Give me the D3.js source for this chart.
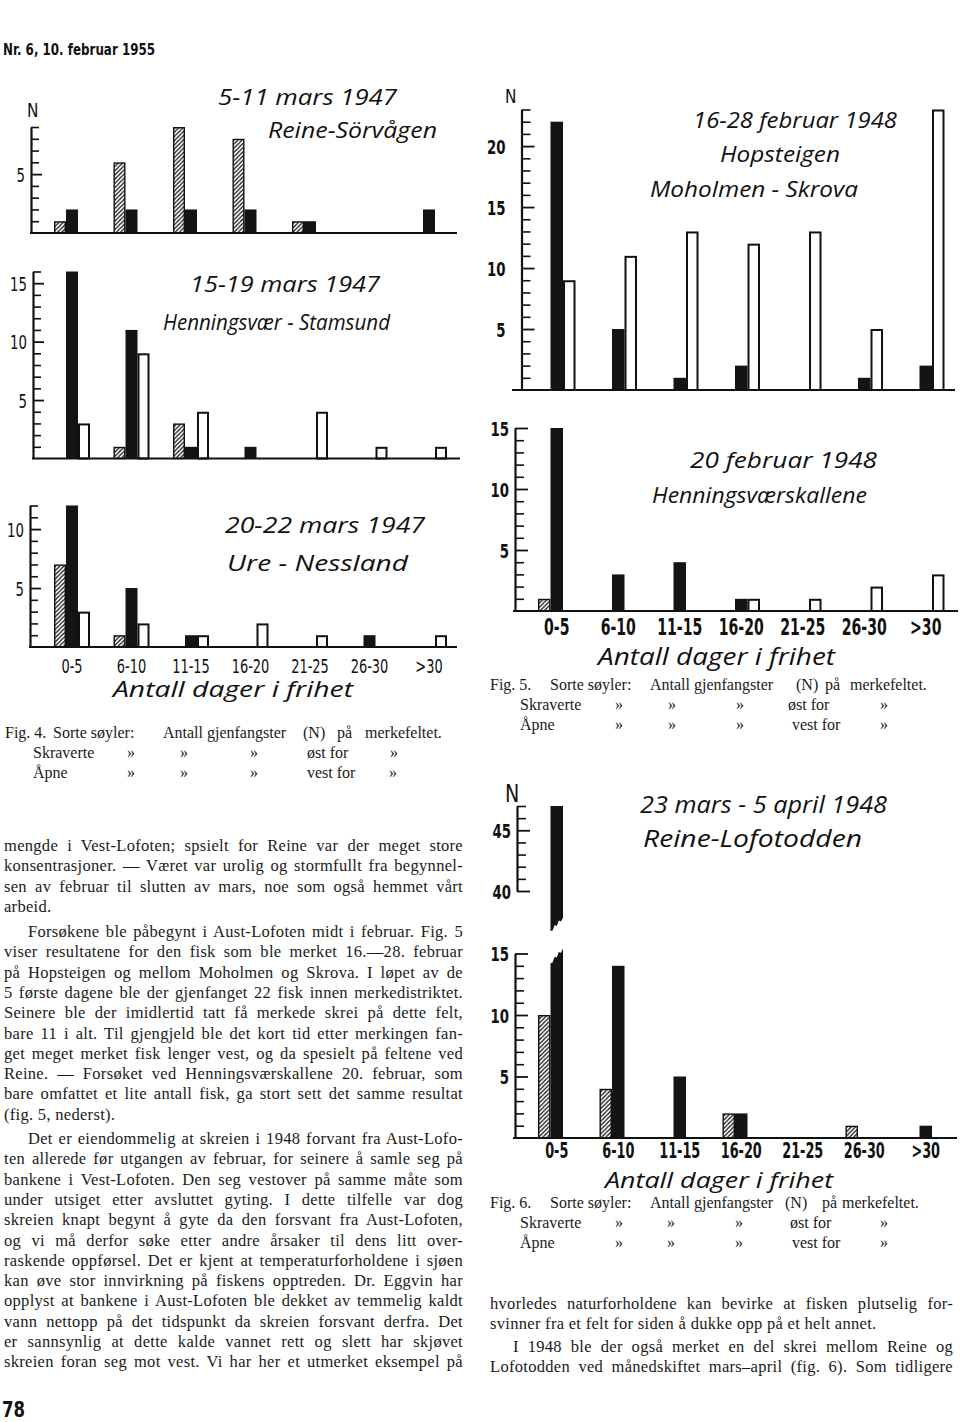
<!DOCTYPE html>
<html><head><meta charset="utf-8">
<script src="https://cdn.jsdelivr.net/npm/d3@7"></script>
<style>body{margin:0;background:#fff}svg{display:block}</style>
</head><body>
<script>
// ---------- DATA ----------
const categories = ["0-5","6-10","11-15","16-20","21-25","26-30",">30"];
const xLabels4 = ["0-5","6-10","11-15","16-20","21-25","26-30",">30"];
const xLabels5 = ["0-5","6-10","11-15","16-20","21-25","26-30",">30"];
const xLabels6 = ["0-5","6-10","11-15","16-20","21-25","26-30",">30"];
const series = ["east","field","west"]; // skraverte, sorte, åpne

// Fig. 4 – 5-11 mars 1947, Reine-Sörvågen
const f4aEast  = [1,6,9,8,1,0,0];
const f4aField = [2,2,2,2,1,0,2];
const f4aWest  = [0,0,0,0,0,0,0];
// Fig. 4 – 15-19 mars 1947, Henningsvær-Stamsund
const f4bEast  = [0,1,3,0,0,0,0];
const f4bField = [16,11,1,1,0,0,0];
const f4bWest  = [3,9,4,0,4,1,1];
// Fig. 4 – 20-22 mars 1947, Ure-Nessland
const f4cEast  = [7,1,0,0,0,0,0];
const f4cField = [12,5,1,0,0,1,0];
const f4cWest  = [3,2,1,2,1,0,1];
// Fig. 5 – 16-28 februar 1948, Hopsteigen, Moholmen-Skrova
const f5aEast  = [0,0,0,0,0,0,0];
const f5aField = [22,5,1,2,0,1,2];
const f5aWest  = [9,11,13,12,13,5,23];
// Fig. 5 – 20 februar 1948, Henningsværskallene
const f5bEast  = [1,0,0,0,0,0,0];
const f5bField = [15,3,4,1,0,0,0];
const f5bWest  = [0,0,0,1,1,2,3];
// Fig. 6 – 23 mars-5 april 1948, Reine-Lofotodden
const f6East   = [10,4,0,2,0,1,0];
const f6Field  = [47,14,5,2,0,0,1];
const f6West   = [0,0,0,0,0,0,0];
const f6BreakLower = [14.2, 15.4];
const f6BreakUpper = [36.7, 37.8];

// y tick labels
const yLab4a = [5], yLab4b = [5,10,15], yLab4c = [5,10];
const yLab5a = [5,10,15,20], yLab5b = [5,10,15];
const yLab6 = [5,10,15], yLab6u = [40,45];

// ---------- TEXT ----------
const leftParas = [
 {indent:false, end:true, y:851, lines:[
  "mengde i Vest-Lofoten; spsielt for Reine var der meget store",
  "konsentrasjoner. — Været var urolig og stormfullt fra begynnel-",
  "sen av februar til slutten av mars, noe som også hemmet vårt",
  "arbeid."]},
 {indent:true, end:true, y:937, lines:[
  "Forsøkene ble påbegynt i Aust-Lofoten midt i februar. Fig. 5",
  "viser resultatene for den fisk som ble merket 16.—28. februar",
  "på Hopsteigen og mellom Moholmen og Skrova. I løpet av de",
  "5 første dagene ble der gjenfanget 22 fisk innen merkedistriktet.",
  "Seinere ble der imidlertid tatt få merkede skrei på dette felt,",
  "bare 11 i alt. Til gjengjeld ble det kort tid etter merkingen fan-",
  "get meget merket fisk lenger vest, og da spesielt på feltene ved",
  "Reine. — Forsøket ved Henningsværskallene 20. februar, som",
  "bare omfattet et lite antall fisk, ga stort sett det samme resultat",
  "(fig. 5, nederst)."]},
 {indent:true, end:false, y:1144, lines:[
  "Det er eiendommelig at skreien i 1948 forvant fra Aust-Lofo-",
  "ten allerede før utgangen av februar, for seinere å samle seg på",
  "bankene i Vest-Lofoten. Den seg vestover på samme måte som",
  "under utsiget etter avsluttet gyting. I dette tilfelle var dog",
  "skreien knapt begynt å gyte da den forsvant fra Aust-Lofoten,",
  "og vi må derfor søke etter andre årsaker til dens litt over-",
  "raskende oppførsel. Det er kjent at temperaturforholdene i sjøen",
  "kan øve stor innvirkning på fiskens opptreden. Dr. Eggvin har",
  "opplyst at bankene i Aust-Lofoten ble dekket av temmelig kaldt",
  "vann nettopp på det tidspunkt da skreien forsvant derfra. Det",
  "er sannsynlig at dette kalde vannet rett og slett har skjøvet",
  "skreien foran seg mot vest. Vi har her et utmerket eksempel på"]}
];
const rightParas = [
 {indent:false, end:true, y:1309, lines:[
  "hvorledes naturforholdene kan bevirke at fisken plutselig for-",
  "svinner fra et felt for siden å dukke opp på et helt annet."]},
 {indent:true, end:false, y:1352, lines:[
  "I 1948 ble der også merket en del skrei mellom Reine og",
  "Lofotodden ved månedskiftet mars–april (fig. 6). Som tidligere"]}
];

// ---------- SETUP ----------
const svg = d3.select("body").append("svg").attr("width",960).attr("height",1422);
const defs = svg.append("defs");
const pat = defs.append("pattern").attr("id","hatch").attr("patternUnits","userSpaceOnUse")
  .attr("width",4.2).attr("height",4.2);
pat.append("rect").attr("width",4.2).attr("height",4.2).attr("fill","#fff");
pat.append("path").attr("d","M0,4.2L4.2,0M-1,1L1,-1M3.2,5.2L5.2,3.2")
  .attr("stroke","#111").attr("stroke-width",1.25);

const INK = "#141414";
const COND = "'DejaVu Sans Condensed','DejaVu Sans',sans-serif";
const HAND = "'Open Sans','DejaVu Sans',sans-serif";
const SERIF = "'Liberation Serif','DejaVu Serif',serif";

function squeeze(sel, f) {
  sel.each(function(){
    const w = this.getComputedTextLength();
    d3.select(this).attr("textLength", w*f).attr("lengthAdjust","spacingAndGlyphs");
  });
}
function fitText(sel, w) {
  sel.attr("textLength", w).attr("lengthAdjust","spacingAndGlyphs");
}

function jagged(x0, x1, ya, yb, n, amp) {
  const pts = [];
  for (let i=0;i<=n;i++){
    const t=i/n;
    pts.push([x0+(x1-x0)*t, ya+(yb-ya)*t + (i%2? amp:-amp)*(i>0&&i<n?1:0)]);
  }
  return pts;
}

function drawPanel(cfg, east, field, west) {
  const g = svg.append("g");
  const x = d3.scaleBand().domain(categories).range(cfg.xRange).paddingInner(cfg.padIn).paddingOuter(0);
  const xs = d3.scaleBand().domain(series).range([0, x.bandwidth()]);
  const y = d3.scaleLinear().domain(cfg.yDomain).range(cfg.yRange);
  const vals = {east, field, west};
  const rows = [];
  series.forEach(s => categories.forEach((c,i) => { if (vals[s][i] > 0) rows.push({s, c, v: vals[s][i]}); }));
  const normal = rows.filter(d => d.v <= cfg.yDomain[1]);
  const over = rows.filter(d => d.v > cfg.yDomain[1]);
  const sw = s => s==="field" ? 0 : (s==="west" ? 2 : 1.4);

  g.selectAll("rect.bar").data(normal).join("rect").attr("class","bar")
    .attr("x", d => x(d.c) + xs(d.s) + sw(d.s)/2)
    .attr("width", d => xs.bandwidth() - sw(d.s))
    .attr("y", d => y(d.v) + sw(d.s)/2)
    .attr("height", d => y(0) - y(d.v) - sw(d.s)/2)
    .attr("fill", d => d.s==="field" ? INK : d.s==="east" ? "url(#hatch)" : "#fff")
    .attr("stroke", d => d.s==="field" ? "none" : "#111")
    .attr("stroke-width", d => sw(d.s));

  // broken bars
  if (cfg.upper && over.length) {
    const yu = d3.scaleLinear().domain(cfg.upper.yDomain).range(cfg.upper.yRange);
    over.forEach(d => {
      const x0 = x(d.c) + xs(d.s), x1 = x0 + xs.bandwidth();
      const lowTop = jagged(x0, x1, y(f6BreakLower[0]), y(f6BreakLower[1]), 6, 1.6);
      const lowPts = [[x0, y(0)], ...lowTop, [x1, y(0)]];
      g.append("path").attr("d", d3.line()(lowPts) + "Z").attr("fill", INK);
      const upBot = jagged(x1, x0, yu(f6BreakUpper[1]), yu(f6BreakUpper[0]), 6, 1.6);
      const upPts = [[x0, yu(d.v)], [x1, yu(d.v)], ...upBot];
      g.append("path").attr("d", d3.line()(upPts) + "Z").attr("fill", INK);
    });
    drawYAxis(g, yu, cfg.upper.axisX, cfg.upper.yDomain, cfg.upper.labels, cfg);
  }

  // baseline
  g.append("line").attr("x1", cfg.base[0]).attr("x2", cfg.base[1])
    .attr("y1", y(0)).attr("y2", y(0)).attr("stroke", "#111").attr("stroke-width", 2.2);

  drawYAxis(g, y, cfg.axisX, cfg.yDomain, cfg.labels, cfg);

  if (cfg.xLabels) {
    const ax = g.append("g").attr("transform", `translate(0,${cfg.xLabelY})`)
      .call(d3.axisBottom(x).tickSize(0).tickPadding(0).tickFormat((d,i)=>cfg.xLabels[i]));
    ax.select(".domain").remove();
    ax.selectAll("text").attr("y",0).attr("dy",0).attr("x",0)
      .attr("transform", `scale(${cfg.xSqueeze},1)`)
      .style("font-family", COND).style("font-size", cfg.xLabelSize+"px")
      .style("font-weight", cfg.xLabelWeight).attr("fill","#111");
  }
}

function drawYAxis(g, y, axisX, dom, labels, cfg) {
  const lo = Math.max(1, Math.ceil(dom[0])), hi = dom[1];
  const all = d3.range(lo, hi+1);
  const minor = all.filter(v => v%5 !== 0);
  const major = all.filter(v => v%5 === 0);
  const a1 = g.append("g").attr("transform", `translate(${axisX},0)`)
    .call(d3.axisRight(y).tickValues(minor).tickSize(cfg.minor).tickSizeOuter(0).tickFormat(""));
  a1.select(".domain").attr("stroke","#111").attr("stroke-width",2.2);
  a1.selectAll(".tick line").attr("stroke","#111").attr("stroke-width",1.6);
  const a2 = g.append("g").attr("transform", `translate(${axisX},0)`)
    .call(d3.axisRight(y).tickValues(major).tickSize(cfg.major).tickSizeOuter(0).tickFormat(""));
  a2.select(".domain").remove();
  a2.selectAll(".tick line").attr("stroke","#111").attr("stroke-width",1.8);
  const f = 0.74;
  const a3 = g.append("g").attr("transform", `translate(${axisX},0)`)
    .call(d3.axisLeft(y).tickValues(labels).tickSize(0).tickPadding(cfg.labelPad).tickFormat(d3.format("d")));
  a3.select(".domain").remove();
  a3.selectAll("text").attr("dy","0.36em").attr("x", -cfg.labelPad / f)
    .attr("transform", `scale(${f},1)`)
    .style("font-family", COND).style("font-size", cfg.yLabelSize+"px")
    .style("font-weight", cfg.yLabelWeight).attr("fill","#111");
}

const f4x = {xRange:[54,447], padIn:0.395, major:11, minor:8, labelPad:6, yLabelSize:20, yLabelWeight:400};
const f5x = {xRange:[538,944.5], padIn:0.39, major:13, minor:9, labelPad:6, yLabelSize:20, yLabelWeight:700};

drawPanel({...f4x, yDomain:[0,9], yRange:[233,127], axisX:31, base:[30,457], labels:yLab4a},
  f4aEast, f4aField, f4aWest);
drawPanel({...f4x, yDomain:[0,16], yRange:[458.5,271.5], axisX:33, base:[32,460], labels:yLab4b},
  f4bEast, f4bField, f4bWest);
drawPanel({...f4x, yDomain:[0,12], yRange:[647,505.5], axisX:30, base:[29,457], labels:yLab4c,
  xLabels:xLabels4, xLabelY:673, xLabelSize:20, xLabelWeight:400, xSqueeze:0.72},
  f4cEast, f4cField, f4cWest);
drawPanel({...f5x, yDomain:[0,23], yRange:[390,109.5], axisX:521.5, base:[512,955], labels:yLab5a, labelPad:16},
  f5aEast, f5aField, f5aWest);
drawPanel({...f5x, yDomain:[0,15], yRange:[611,428], axisX:515, base:[513,958], labels:yLab5b,
  xLabels:xLabels5, xLabelY:635, xLabelSize:23, xLabelWeight:700, xSqueeze:0.68},
  f5bEast, f5bField, f5bWest);
drawPanel({...f5x, yDomain:[0,15], yRange:[1138,953.5], axisX:515, base:[513,957], labels:yLab6,
  xLabels:xLabels6, xLabelY:1158, xLabelSize:21, xLabelWeight:700, xSqueeze:0.68,
  upper:{yDomain:[40,47], yRange:[891,806], axisX:517, labels:yLab6u}},
  f6East, f6Field, f6West);

// ---------- TITLES ----------
const titles = [
 ["5-11 mars 1947", 218, 104.5, 179, 21],
 ["Reine-Sörvågen", 268, 138, 169, 21],
 ["15-19 mars 1947", 190, 292, 190, 21],
 ["Henningsvær - Stamsund", 163, 330, 227, 21],
 ["20-22 mars 1947", 225, 533, 200, 21],
 ["Ure - Nessland", 227, 570.5, 181, 21],
 ["Antall dager i frihet", 113, 697, 240, 21],
 ["16-28 februar 1948", 693, 128, 204, 21],
 ["Hopsteigen", 720, 161.5, 120, 21],
 ["Moholmen - Skrova", 650, 196.5, 208, 21],
 ["20 februar 1948", 690, 468, 187, 21],
 ["Henningsværskallene", 652, 503, 215, 21],
 ["Antall dager i frihet", 598, 665, 237, 23],
 ["23 mars - 5 april 1948", 640, 812.5, 247, 24],
 ["Reine-Lofotodden", 643, 847, 219, 24],
 ["Antall dager i frihet", 605, 1188, 228, 21]
];
const tg = svg.append("g");
titles.forEach(([t,x,y,w,s]) => {
  const el = tg.append("text").attr("x",x).attr("y",y).text(t)
    .style("font-family", HAND).style("font-style","italic").style("font-size", s+"px")
    .attr("fill","#111");
  fitText(el, w);
});
// N labels
[[27,117,20],[505,103,20],[505,802,25]].forEach(([x,y,s]) => {
  tg.append("text").attr("x",x).attr("y",y).text("N")
    .style("font-family", COND).style("font-size", s+"px").attr("fill","#111")
    .call(sel => squeeze(sel, 0.85));
});

// header & page number
svg.append("text").attr("x",3).attr("y",55).text("Nr. 6, 10. februar 1955")
  .style("font-family", COND).style("font-weight",700).style("font-size","16px").attr("fill","#111")
  .call(sel => fitText(sel, 152));
svg.append("text").attr("x",2).attr("y",1417).text("78")
  .style("font-family", COND).style("font-weight",700).style("font-size","21px").attr("fill","#111")
  .call(sel => fitText(sel, 23));

// ---------- CAPTIONS ----------
function caption(num, rows) {
  const g = svg.append("g").style("font-family", SERIF).style("font-size","16px").attr("fill","#1a1a1a");
  rows.forEach(([y, parts]) => parts.forEach(([t, x]) => g.append("text").attr("x",x).attr("y",y).text(t)));
}
caption(4, [
 [738, [["Fig. 4.",5],["Sorte søyler:",53],["Antall gjenfangster",163],["(N)",303],["på",337],["merkefeltet.",365]]],
 [758, [["Skraverte",33],["»",127],["»",180],["»",250],["øst for",307],["»",390]]],
 [778, [["Åpne",33],["»",127],["»",180],["»",250],["vest for",307],["»",389]]]
]);
caption(5, [
 [690, [["Fig. 5.",490],["Sorte søyler:",550],["Antall gjenfangster",650],["(N)",796],["på",825],["merkefeltet.",850]]],
 [710, [["Skraverte",520],["»",615],["»",668],["»",736],["øst for",788],["»",880]]],
 [730, [["Åpne",520],["»",615],["»",668],["»",736],["vest for",792],["»",880]]]
]);
caption(6, [
 [1208, [["Fig. 6.",490],["Sorte søyler:",550],["Antall gjenfangster",650],["(N)",785],["på",822],["merkefeltet.",842]]],
 [1228, [["Skraverte",520],["»",615],["»",667],["»",735],["øst for",790],["»",880]]],
 [1248, [["Åpne",520],["»",615],["»",667],["»",735],["vest for",792],["»",880]]]
]);

// ---------- BODY TEXT ----------
function textCol(paras, x0, x1, indent, step) {
  const g = svg.append("g").style("font-family", SERIF).style("font-size","16.5px")
    .style("letter-spacing","0.3px").attr("fill","#1a1a1a");
  paras.forEach(p => {
    p.lines.forEach((line, i) => {
      const x = (i===0 && p.indent) ? x0 + indent : x0;
      const t = g.append("text").attr("x", x).attr("y", p.y + i*step).text(line);
      const isLast = i === p.lines.length-1;
      if (!(isLast && p.end)) {
        const w = t.node().getComputedTextLength();
        const n = (line.match(/ /g)||[]).length;
        if (n) t.style("word-spacing", ((x1 - x - w)/n) + "px");
      }
    });
  });
}
textCol(leftParas, 4, 463, 24, 20.3);
textCol(rightParas, 490, 953, 23, 20.3);
</script>
</body></html>
